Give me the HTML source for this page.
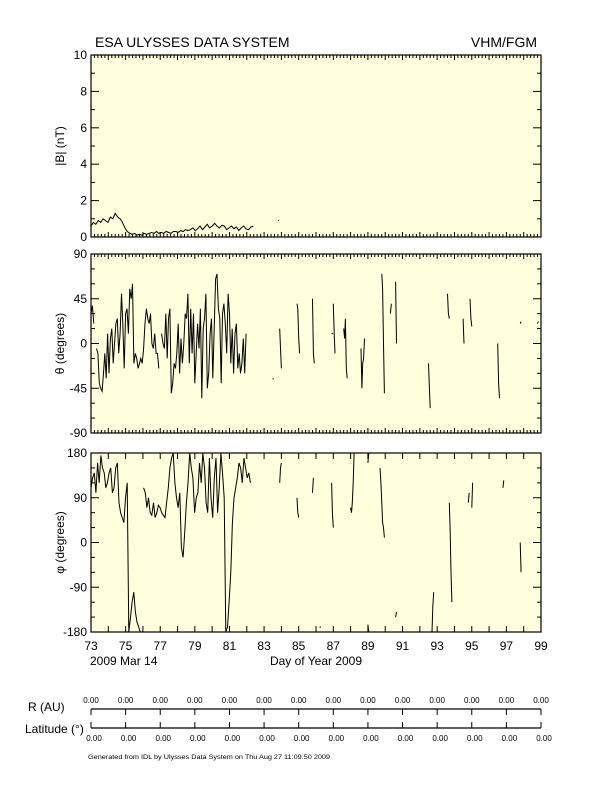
<!DOCTYPE html>
<html><head><meta charset="utf-8">
<style>
html,body{margin:0;padding:0;background:#fff;}
body{width:612px;height:792px;overflow:hidden;font-family:"Liberation Sans",sans-serif;}
svg text{font-family:"Liberation Sans",sans-serif;fill:#000;}
</style></head>
<body>
<svg id="chart" width="612" height="792" viewBox="0 0 612 792" xmlns="http://www.w3.org/2000/svg">
<rect width="612" height="792" fill="#fff"/>
<text x="95" y="47" font-size="14">ESA ULYSSES DATA SYSTEM</text>
<text x="537" y="47" font-size="14" text-anchor="end">VHM/FGM</text>
<g id="panels"></g>
<text x="90" y="665" font-size="12">2009 Mar 14</text>
<text x="316" y="665" font-size="12" text-anchor="middle">Day of Year 2009</text>
<text x="28" y="711" font-size="12">R (AU)</text>
<text x="25" y="733" font-size="12">Latitude (°)</text>
<text x="88" y="759" font-size="6.5" textLength="242" lengthAdjust="spacingAndGlyphs">Generated from IDL by Ulysses Data System on Thu Aug 27 11:09:50 2009</text>
<g id="orbit"></g>
</svg>
<script>
const days = [73,75,77,79,81,83,85,87,89,91,93,95,97,99];
const bTicks = [0,2,4,6,8,10];
const thetaTicks = [-90,-45,0,45,90];
const phiTicks = [-180,-90,0,90,180];
const orbitLabels = ["0.00","0.00","0.00","0.00","0.00","0.00","0.00","0.00","0.00","0.00","0.00","0.00","0.00","0.00"];
// |B| from day 73.0
const bStart = 73.0;
const bStep = 0.14;
const bVals = [0.6,0.8,0.7,0.9,0.8,1.0,0.9,0.8,1.1,1.0,1.3,1.1,1.0,0.8,0.5,0.3,0.2,0.15,0.2,0.1,0.15,0.1,0.2,0.15,0.2,0.25,0.2,0.3,0.2,0.25,0.2,0.3,0.25,0.2,0.3,0.3,0.25,0.35,0.3,0.4,0.35,0.4,0.5,0.35,0.45,0.6,0.4,0.55,0.7,0.5,0.6,0.75,0.6,0.5,0.65,0.6,0.4,0.5,0.6,0.45,0.55,0.35,0.5,0.6,0.45,0.4,0.55,0.6];
// theta dense from 73.0
const thStart = 73.0;
const thStep = 0.08;
const thVals = [30,38,20,null,-5,-10,-40,-45,-48,-30,-10,-35,10,-30,5,15,-20,0,20,25,-10,10,50,20,-25,30,35,10,55,45,60,-20,-10,-15,-25,-20,-15,-20,-5,20,35,25,20,30,0,-5,10,-10,-10,-25,null,10,0,-5,30,-15,25,35,-50,-40,-20,-25,-10,20,-30,5,-20,0,30,25,50,-20,35,-10,30,-40,-10,20,-5,35,-55,15,25,50,-45,-30,10,25,-35,15,65,70,35,25,-40,30,40,20,-10,50,30,-20,15,-30,10,20,-25,-10,-30,-20,5,-30,10];
// theta sparse segments: [start day, values...] step 0.05
const thSegs = [[83.5,-35,-36],[83.9,15,-5,-25],[84.9,40,35,5,-10],[85.8,45,-10,-20],[86.9,10],[87.0,40,10,-10],[87.6,15,5,25,-25,-35],[88.6,-5,-45,-20,-15,5],[89.8,70,55,0,-50],[90.3,30,40],[90.6,62,0],[92.5,-20,-45,-65],[93.6,50,30,25],[94.5,25,0],[94.9,45,25,17],[96.5,0,-40,-55],[97.8,20,22],[98.8,20,22]];
// phi dense from 73.0
const phStart = 73.0;
const phStep = 0.095;
const phVals = [110,130,140,100,160,120,175,150,140,110,120,140,150,100,110,150,160,80,60,50,40,90,120,-180,-150,-120,-100,-140,-160,-170,-180,null,110,100,70,90,60,55,80,50,60,75,70,60,55,50,80,110,150,170,180,120,90,70,100,-10,-30,20,80,120,180,150,130,60,90,100,160,120,180,150,80,60,170,90,50,130,170,60,110,180,140,90,-180,-170,-120,-60,40,90,110,130,160,150,120,170,150,130,140,120];
const phSegs = [[83.9,120,150,160],[84.9,90,60,50],[85.8,100,130],[86.2,-170],[86.9,120,60,30],[88.0,70,60,80,120,180],[89.0,-165,-180],[89.0,160,180],[89.7,150,120,80,40,30,10],[90.6,-150,-140],[92.7,-180,-130,-100],[93.7,80,30,-60,-120],[94.8,80,100],[95.0,70,120],[96.8,110,125],[97.8,0,-60]];

const X0=91,X1=541,D0=73,D1=99;
function xs(d){return X0+(d-D0)*(X1-X0)/(D1-D0);}
const svgNS="http://www.w3.org/2000/svg";
const panelsG=document.getElementById('panels');
function mk(tag,attrs,parent){const e=document.createElementNS(svgNS,tag);for(const k in attrs)e.setAttribute(k,attrs[k]);(parent||panelsG).appendChild(e);return e;}

function panel(name,top,bot,vmin,vmax,ticks,minorStep,label,ticksDense){
  const g=mk('g',{});
  
  
  const ys=v=>bot-(v-vmin)*(bot-top)/(vmax-vmin);
  mk('rect',{x:X0,y:top,width:X1-X0,height:bot-top,fill:'#ffffdd',stroke:'#000','stroke-width':1.2},g);
  for(let d=D0;d<=D1+1e-9;d+= ticksDense?0.2:1){
    const major=Math.abs(d-Math.round(d))<1e-6;
    const L=ticksDense?(major?5:3):6;
    const x=xs(d);
    mk('line',{x1:x,y1:top,x2:x,y2:top+L,stroke:'#000','stroke-width':1},g);
    mk('line',{x1:x,y1:bot,x2:x,y2:bot-L,stroke:'#000','stroke-width':1},g);
  }
  for(let v=vmin;v<=vmax+1e-9;v+=minorStep){
    const y=ys(v);const major=ticks.some(t=>Math.abs(t-v)<1e-6);
    const L=major?8:4;
    mk('line',{x1:X0,y1:y,x2:X0+L,y2:y,stroke:'#000','stroke-width':1},g);
    mk('line',{x1:X1,y1:y,x2:X1-L,y2:y,stroke:'#000','stroke-width':1},g);
  }
  ticks.forEach(t=>{const tx=mk('text',{x:X0-4,y:ys(t)+4,'font-size':12,'text-anchor':'end'},g);tx.textContent=t;
    
    });
  const lab=mk('text',{x:0,y:0,'font-size':12,'text-anchor':'middle',transform:`translate(${X0-27},${(top+bot)/2}) rotate(-90)`},g);
  lab.textContent=label;
  
  
  return {g,ys};
}
function drawSeries(p,start,step,vals,name){
  let d='',pen=false;
  vals.forEach((v,i)=>{
    if(v===null){pen=false;return;}
    const x=xs(start+i*step).toFixed(1),y=p.ys(v).toFixed(1);
    d+=(pen?'L':'M')+x+' '+y+' ';pen=true;
  });
  if(vals.filter(v=>v!==null).length===1){d+='h1.5';}
  const path=mk('path',{d:d,fill:'none',stroke:'#000','stroke-width':1},p.g);
  
  
}
const pB=panel('b-magnitude-panel',55,237,0,10,bTicks,1,'|B| (nT)',true);
drawSeries(pB,bStart,bStep,bVals,'b-magnitude-line');
drawSeries(pB,83.8,0.05,[0.9,0.92],'b-magnitude-point');
const pT=panel('theta-panel',254,433,-90,90,thetaTicks,15,'θ (degrees)',true);
drawSeries(pT,thStart,thStep,thVals,'theta-line');
thSegs.forEach(s=>drawSeries(pT,s[0],0.05,s.slice(1),'theta-segment'));
const pP=panel('phi-panel',453,632,-180,180,phiTicks,30,'φ (degrees)',false);
drawSeries(pP,phStart,phStep,phVals,'phi-line');
phSegs.forEach(s=>drawSeries(pP,s[0],0.05,s.slice(1),'phi-segment'));
days.forEach(d=>{const t=mk('text',{x:xs(d),y:650,'font-size':12,'text-anchor':'middle'});t.textContent=d;
  
  });
const og=document.getElementById('orbit');
mk('line',{x1:X0,y1:709,x2:X1,y2:709,stroke:'#000','stroke-width':1.2},og);
mk('line',{x1:X0,y1:728,x2:X1,y2:728,stroke:'#000','stroke-width':1.2},og);
days.forEach((d,i)=>{const x=xs(d);
  mk('line',{x1:x,y1:709,x2:x,y2:715,stroke:'#000'},og);
  mk('line',{x1:x,y1:728,x2:x,y2:722,stroke:'#000'},og);
  const t1=mk('text',{x:x,y:703,'font-size':8,'text-anchor':'middle'},og);t1.textContent=orbitLabels[i];
  
  
  const t2=mk('text',{x:x+3,y:741,'font-size':8,'text-anchor':'middle'},og);t2.textContent=orbitLabels[i];
  
  
});
</script>
</body></html>
